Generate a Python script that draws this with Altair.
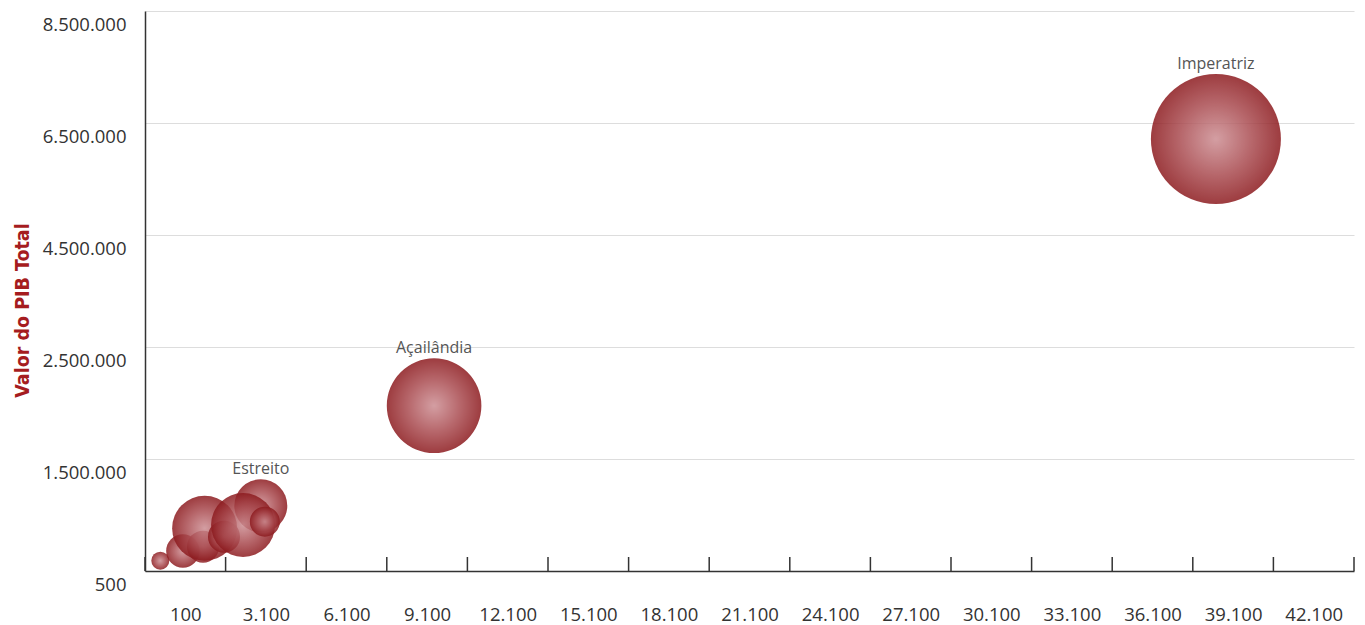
import altair as alt
import pandas as pd

# Municipalities: x indicator, total GDP and bubble-size variable
labels = ["Imperatriz", "Açailândia", "Estreito", "", "", "", "", "", "", ""]
x_values = [39960, 10860, 4410, 670, 1510, 2260, 2320, 3040, 3750, 4560]
pib_values = [6214000, 1976000, 874700, 138400, 268300, 325800, 572200, 459700, 616400, 660500]
size_values = [260000, 137700, 43200, 5000, 17200, 15800, 65000, 15800, 63000, 13800]

# Axis tick values
x_ticks = [100, 3100, 6100, 9100, 12100, 15100, 18100, 21100, 24100,
           27100, 30100, 33100, 36100, 39100, 42100, 45100]
y_ticks = [500, 1500000, 2500000, 4500000, 6500000, 8500000]

WIDTH = 1209
HEIGHT = 560
SIZE_MAX = 260000
AREA_MAX = 16900  # symbol size (4 * r^2) of the largest bubble

df = pd.DataFrame({
    "municipio": labels,
    "x": x_values,
    "pib": pib_values,
    "tamanho": size_values,
})
ticks_df = pd.DataFrame({"t": x_ticks})

dot_fmt = "replace(replace(replace(format(datum.value, ','), ',', '.'), ',', '.'), ',', '.')"

x_scale = alt.Scale(domain=[x_ticks[0], x_ticks[-1]], nice=False, zero=False)
# evenly spaced bands between the labelled GDP values (piecewise linear)
y_scale = alt.Scale(
    domain=y_ticks,
    range=[HEIGHT - i * HEIGHT / (len(y_ticks) - 1) for i in range(len(y_ticks))],
    nice=False,
    zero=False,
)
size_scale = alt.Scale(type="linear", domain=[0, SIZE_MAX], range=[0, AREA_MAX], zero=True)

x_axis = alt.Axis(
    values=x_ticks,
    labelExpr=f"datum.value > {x_ticks[-2]} ? '' : {dot_fmt}",
    ticks=False,
    grid=False,
    domainColor="#333333",
    domainWidth=1.5,
    labelOffset=WIDTH / (len(x_ticks) - 1) / 2,
    labelPadding=34,
    labelFont="Open Sans",
    labelFontSize=18.5,
    labelColor="#333333",
    labelFlush=False,
    labelOverlap=False,
    title=None,
)

y_axis = alt.Axis(
    values=y_ticks,
    labelExpr=dot_fmt,
    ticks=False,
    grid=True,
    gridColor="#dddddd",
    gridWidth=1,
    domainColor="#333333",
    domainWidth=1.5,
    labelOffset=13,
    labelPadding=19,
    labelFont="Open Sans",
    labelFontSize=18.5,
    labelColor="#333333",
    labelFlush=False,
    labelOverlap=False,
    title="Valor do PIB Total",
    titleFont="Liberation Sans Narrow, DejaVu Sans Condensed, sans-serif",
    titleFontSize=19.5,
    titleFontWeight="bold",
    titleColor="#a51c20",
    titleAngle=270,
    titleX=-123,
    titleY=299,
    titleAlign="center",
    titleBaseline="middle",
)

bubble_fill = alt.RadialGradient(
    gradient="radial",
    stops=[
        alt.GradientStop(color="#cc8d92", offset=0),
        alt.GradientStop(color="#aa4c51", offset=0.55),
        alt.GradientStop(color="#8c1a1e", offset=1),
    ],
    x1=0.5, y1=0.5, r1=0,
    x2=0.5, y2=0.5, r2=0.5,
)

bubbles = alt.Chart(df).mark_circle(
    fill=bubble_fill, opacity=0.85, strokeWidth=0
).encode(
    x=alt.X("x:Q", scale=x_scale, axis=x_axis),
    y=alt.Y("pib:Q", scale=y_scale, axis=y_axis),
    size=alt.Size("tamanho:Q", scale=size_scale, legend=None),
)

# short upward tick marks on the x axis
tick_marks = alt.Chart(ticks_df).mark_rule(color="#333333", strokeWidth=1.5).encode(
    x=alt.X("t:Q", scale=x_scale, axis=x_axis),
    y=alt.value(HEIGHT - 14),
    y2=alt.value(HEIGHT),
)

# municipality names just above each labelled bubble (offset by the bubble radius)
names = alt.Chart(df).transform_filter(
    "datum.municipio != ''"
).transform_calculate(
    off=f"-(sqrt(datum.tamanho / {SIZE_MAX} * {AREA_MAX}) / 2 + 10)"
).mark_text(
    font="Open Sans", fontSize=16, color="#555555", baseline="middle", align="center",
    dy=alt.ExprRef("datum.off"),
).encode(
    x=alt.X("x:Q", scale=x_scale, axis=x_axis),
    y=alt.Y("pib:Q", scale=y_scale, axis=y_axis),
    text="municipio:N",
)

chart = alt.layer(bubbles, tick_marks, names).properties(
    width=WIDTH,
    height=HEIGHT,
    autosize=alt.AutoSizeParams(type="none"),
    padding={"left": 145, "top": 11, "right": 11, "bottom": 54},
    background="white",
).configure_view(stroke=None)

chart.save("out.html", embed_options={"renderer": "svg", "actions": False})
